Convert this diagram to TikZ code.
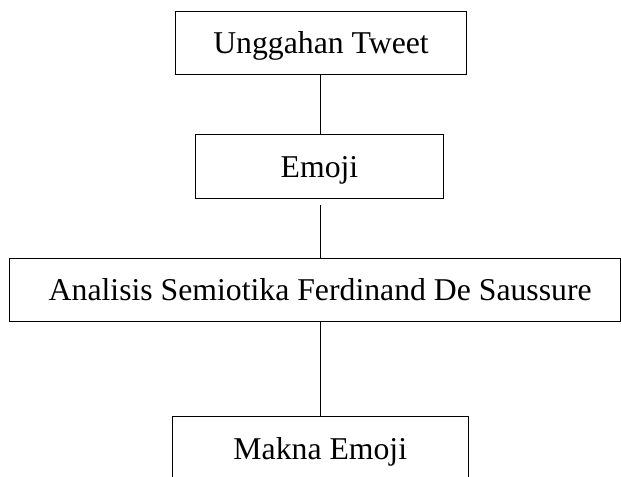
\documentclass[tikz,border=0pt]{standalone}
\usepackage{fontspec}
\setmainfont{Liberation Serif}
\usetikzlibrary{positioning,calc}
\tikzset{
	flowbox/.style={draw, line width=0.8pt, fill=white,
		minimum height=48pt, inner sep=0pt,
		text height=20.2pt, text depth=4.5pt,
		font=\fontsize{23.8}{28}\selectfont},
	link/.style={line width=0.8pt},
}
\begin{document}
\begin{tikzpicture}[x=0.75pt,y=-0.75pt]
		
		\useasboundingbox (0,0) rectangle (621,477);
		\clip (0,0) rectangle (621,477);
		
		% =============== BOXES ===============
		\node[flowbox, minimum width=218pt, minimum height=47.5pt] (tweet) at (321,43.3) {Unggahan Tweet};
		\node[flowbox, minimum width=185.7pt] (emoji) at (319.5,166.7) {Emoji};
		\node[flowbox, minimum width=457.9pt, minimum height=47pt] (analisis) at (315.2,289.7)
		{\hspace*{7.5pt}Analisis Semiotika Ferdinand De Saussure};
		\node[flowbox, minimum width=222pt] (makna) at (320.3,448.7) {Makna Emoji};
		
		% =============== LINKS ===============
		\coordinate (axis) at (320.3,0);
		\draw[link] (axis |- tweet.south) -- (axis |- emoji.north);
		\draw[link, shorten <=4.5pt] (axis |- emoji.south) -- (axis |- analisis.north);
		\draw[link] (axis |- analisis.south) -- (axis |- makna.north);
		
	\end{tikzpicture}
\end{document}
